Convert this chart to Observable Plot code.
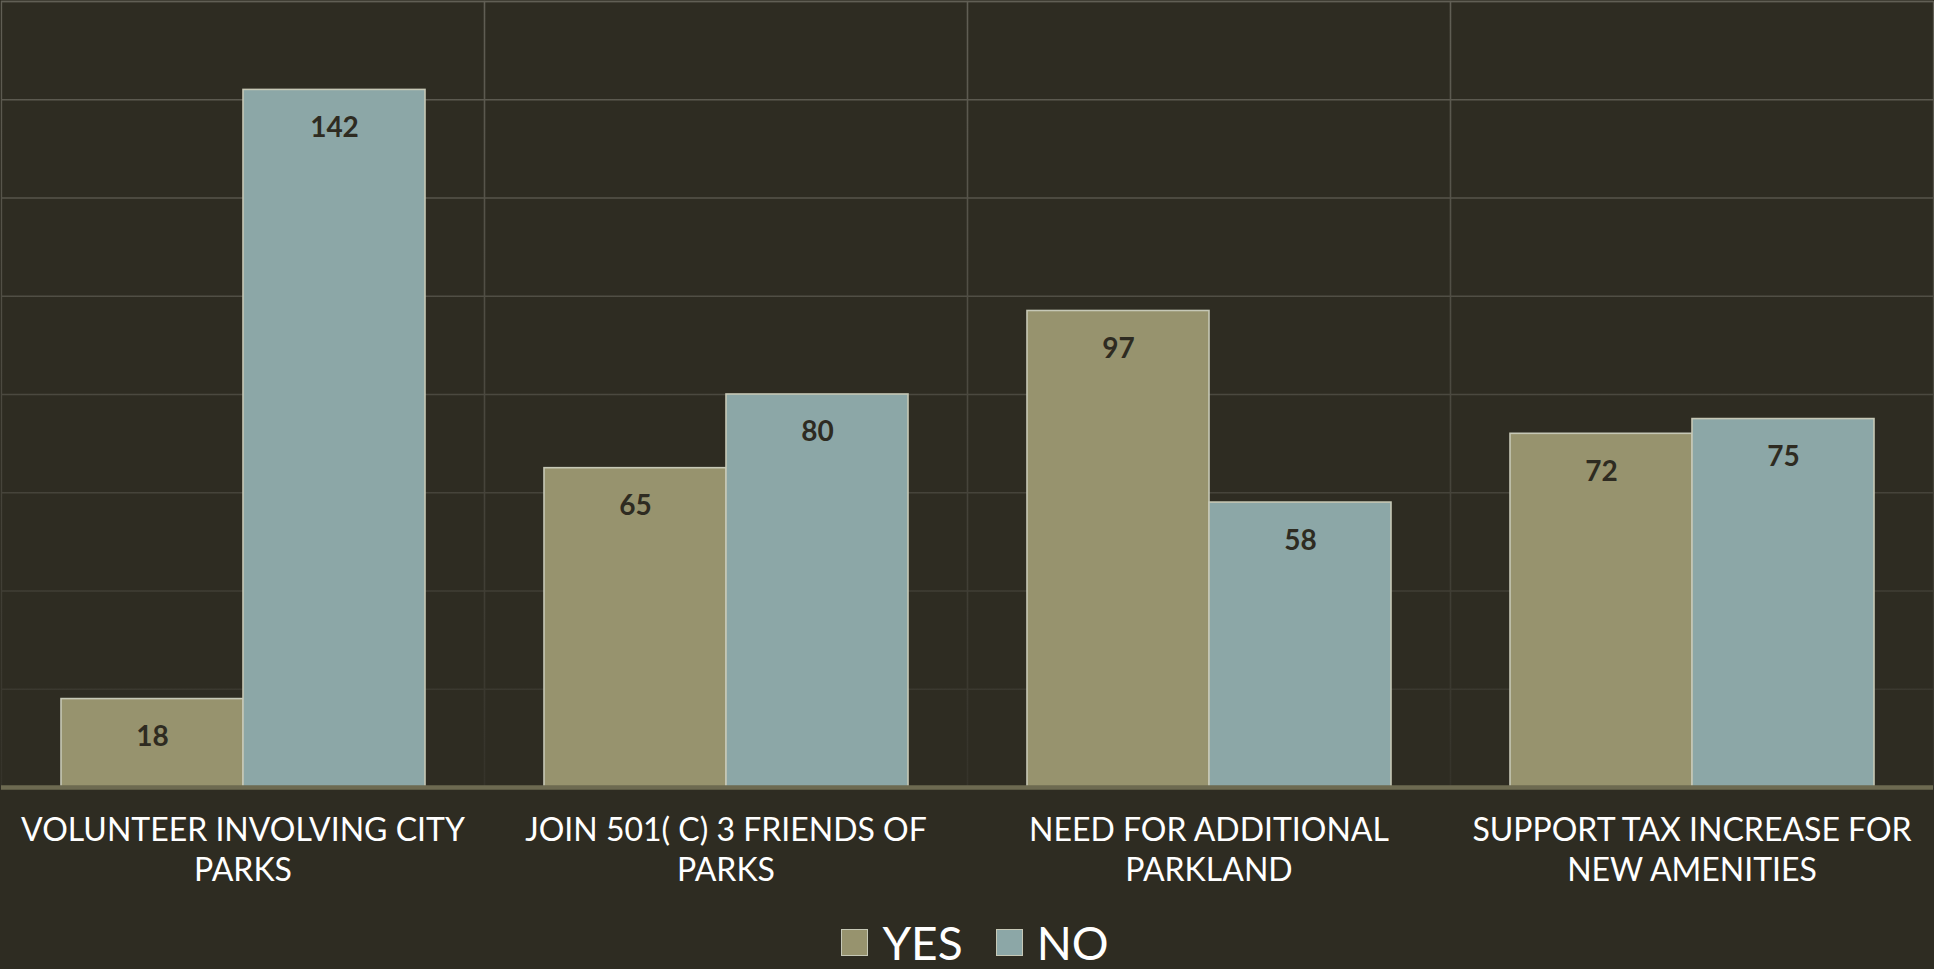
<!DOCTYPE html>
<html>
<head>
<meta charset="utf-8">
<script src="https://cdn.jsdelivr.net/npm/d3@7"></script>
<script src="https://cdn.jsdelivr.net/npm/@observablehq/plot@0.6"></script>
<style>
  html, body { margin: 0; padding: 0; background: #2e2c22; width: 1934px; height: 969px; overflow: hidden; }
  #chart svg { display: block; }
  #legend { height: 64px; box-sizing: border-box; padding-top: 10px; padding-left: 16px; display: flex; justify-content: center; align-items: flex-start; font-family: Lato, sans-serif; color: #ffffff; font-size: 46px; }
  .item { display: flex; align-items: center; height: 55px; }
  .sw { width: 25px; height: 25px; border: 1.5px solid #c6c8b6; margin-right: 14px; }
  .item + .item { margin-left: 33px; }
</style>
</head>
<body>
<div id="chart"></div>
<div id="legend"></div>
<script>
const categories = [
  "VOLUNTEER INVOLVING CITY PARKS",
  "JOIN 501( C) 3 FRIENDS OF PARKS",
  "NEED FOR ADDITIONAL PARKLAND",
  "SUPPORT TAX INCREASE FOR NEW AMENITIES"
];
const tickLabels = [
  "VOLUNTEER INVOLVING CITY\nPARKS",
  "JOIN 501( C) 3 FRIENDS OF\nPARKS",
  "NEED FOR ADDITIONAL\nPARKLAND",
  "SUPPORT TAX INCREASE FOR\nNEW AMENITIES"
];
const series = ["YES", "NO"];
const yesValues = [18, 65, 97, 72];
const noValues = [142, 80, 58, 75];
const seriesColors = ["#97936e", "#8ca7a7"];
const yTicks = [0, 20, 40, 60, 80, 100, 120, 140, 160];

const data = [];
categories.forEach((c, i) => {
  data.push({category: c, answer: "YES", value: yesValues[i]});
  data.push({category: c, answer: "NO", value: noValues[i]});
});
const labelOf = new Map(categories.map((c, i) => [c, tickLabels[i]]));

const W = 1934, H = 905;
const svg = Plot.plot({
  width: W,
  height: H,
  marginTop: 1,
  marginBottom: 118,
  marginLeft: 0,
  marginRight: 0,
  style: {background: "transparent", fontFamily: "Lato, sans-serif", overflow: "visible"},
  fx: {domain: categories, padding: 0, label: null},
  x: {domain: series, paddingInner: 0, paddingOuter: 0.325, axis: null},
  y: {domain: [0, 160], axis: null},
  color: {domain: series, range: seriesColors},
  marks: [
    Plot.gridY(yTicks, {stroke: "url(#gridGrad)", strokeOpacity: 1, strokeWidth: 1.3}),
    Plot.frame({stroke: "url(#gridGrad)", strokeWidth: 1.3}),
    Plot.barY(data, {fx: "category", x: "answer", y: "value", fill: "answer", stroke: "#c6c8b6", strokeWidth: 1.6}),
    Plot.text(data, {fx: "category", x: "answer", y: "value", text: d => String(d.value), dy: 38, fill: "#2e2b21", fontSize: 28, fontWeight: 700}),
    Plot.ruleY([0], {stroke: "#6d6a51", strokeWidth: 4.5}),
    Plot.axisFx({anchor: "bottom", tickSize: 0, tickPadding: 25, tickFormat: d => labelOf.get(d), fontSize: 32, lineHeight: 1.25, fill: "#ffffff", label: null, textOverflow: null})
  ]
});

const defs = d3.select(svg).insert("defs", ":first-child");
const g = defs.append("linearGradient").attr("id", "gridGrad").attr("gradientUnits", "userSpaceOnUse")
  .attr("x1", 0).attr("y1", 0).attr("x2", 0).attr("y2", 787);
g.append("stop").attr("offset", 0).attr("stop-color", "#615f55");
g.append("stop").attr("offset", 1).attr("stop-color", "#35332a");

document.getElementById("chart").appendChild(svg);

const legend = document.getElementById("legend");
series.forEach((s, i) => {
  const item = document.createElement("div");
  item.className = "item";
  const sw = document.createElement("span");
  sw.className = "sw";
  sw.style.background = seriesColors[i];
  const t = document.createElement("span");
  t.textContent = s;
  item.appendChild(sw);
  item.appendChild(t);
  legend.appendChild(item);
});
</script>
</body>
</html>
